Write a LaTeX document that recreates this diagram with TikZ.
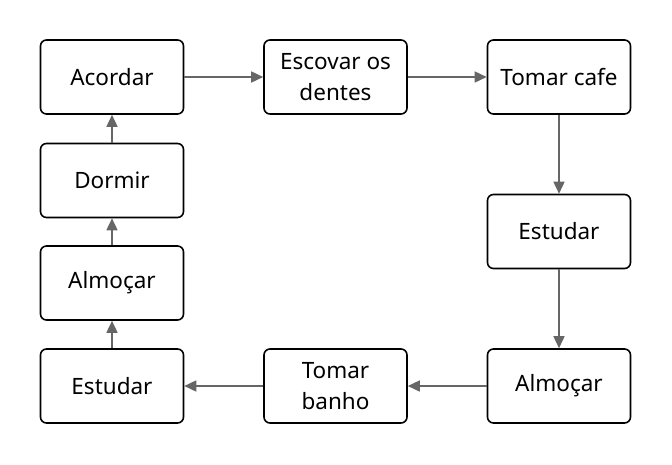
\documentclass[tikz,border=0pt]{standalone}
\usepackage{fontspec}
\setmainfont{Noto Sans}
\usetikzlibrary{arrows.meta}
\definecolor{arrowgray}{HTML}{666666}
\begin{document}
\begin{tikzpicture}[x=1pt,y=-1pt,
  box/.style={draw=black, line width=1.6pt, rounded corners=6pt, minimum width=143pt, minimum height=74pt, align=center, font=\fontsize{22.5}{31}\selectfont, inner sep=0pt},
  conn/.style={draw=arrowgray, line width=1.6pt, -{Triangle[length=12pt,width=11pt]}}]
\useasboundingbox (0,0) rectangle (672,464);
\node[box] (acordar) at (112,77) {Acordar};
\node[box] (escovar) at (335.5,77) {Escovar os\\dentes};
\node[box] (cafe) at (559,77) {Tomar cafe};
\node[box] (estudarR) at (559,231.5) {Estudar};
\node[box] (almocarR) at (559,386) {Almoçar};
\node[box] (banho) at (335.5,386) {Tomar\\banho};
\node[box] (estudarL) at (112,386) {Estudar};
\node[box] (almocarL) at (112,283) {Almoçar};
\node[box] (dormir) at (112,180.5) {Dormir};
\draw[conn] (acordar) -- (escovar);
\draw[conn] (escovar) -- (cafe);
\draw[conn] (cafe) -- (estudarR);
\draw[conn] (estudarR) -- (almocarR);
\draw[conn] (almocarR) -- (banho);
\draw[conn] (banho) -- (estudarL);
\draw[conn] (estudarL) -- (almocarL);
\draw[conn] (almocarL) -- (dormir);
\draw[conn] (dormir) -- (acordar);
\end{tikzpicture}
\end{document}
